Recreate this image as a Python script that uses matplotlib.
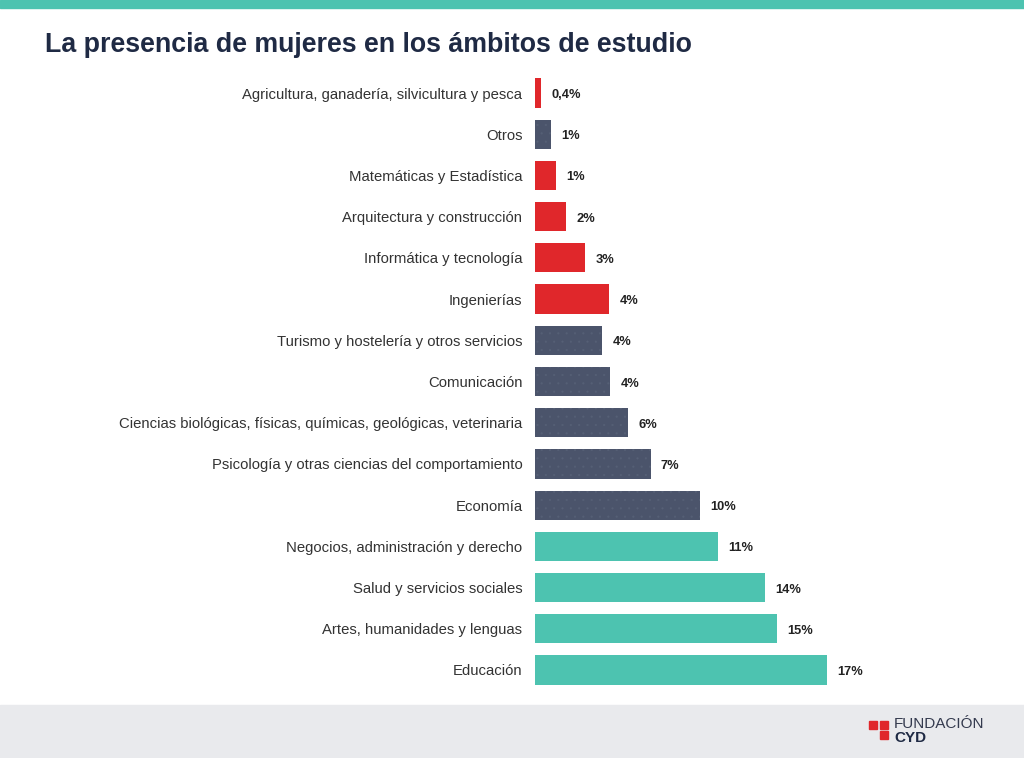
import matplotlib
matplotlib.use("Agg")
import matplotlib.pyplot as plt
from matplotlib.patches import Rectangle
from matplotlib.transforms import ScaledTranslation

plt.rcParams['font.family'] = ['Liberation Sans', 'DejaVu Sans']
plt.rcParams['hatch.linewidth'] = 0.3

# Data, top to bottom as in the chart
categories = [
    "Agricultura, ganadería, silvicultura y pesca",
    "Otros",
    "Matemáticas y Estadística",
    "Arquitectura y construcción",
    "Informática y tecnología",
    "Ingenierías",
    "Turismo y hostelería y otros servicios",
    "Comunicación",
    "Ciencias biológicas, físicas, químicas, geológicas, veterinaria",
    "Psicología y otras ciencias del comportamiento",
    "Economía",
    "Negocios, administración y derecho",
    "Salud y servicios sociales",
    "Artes, humanidades y lenguas",
    "Educación",
]
values = [0.35, 0.9, 1.2, 1.8, 2.9, 4.3, 3.9, 4.35, 5.4, 6.7, 9.55, 10.6, 13.35, 14.05, 16.9]
value_labels = ["0,4%", "1%", "1%", "2%", "3%", "4%", "4%", "4%", "6%", "7%",
                "10%", "11%", "14%", "15%", "17%"]
groups = ["stem", "other", "stem", "stem", "stem", "stem", "other", "other", "other",
          "other", "other", "fem", "fem", "fem", "fem"]

group_colors = {"stem": "#e0272b", "other": "#4b546b", "fem": "#4dc3b0"}

W, H = 1024, 758
fig = plt.figure(figsize=(W / 100, H / 100), dpi=100)
fig.patch.set_facecolor("white")

# top band and bottom footer
fig.patches.append(Rectangle((0, 1 - 8 / H), 1, 8 / H, transform=fig.transFigure,
                             color="#4dc3b0", zorder=0))
fig.patches.append(Rectangle((0, 0), 1, 53 / H, transform=fig.transFigure,
                             color="#e9eaed", zorder=0))

fig.text(45 / W, 1 - 45 / H, "La presencia de mujeres en los ámbitos de estudio",
         fontsize=19.3, fontweight="bold", color="#1f2a44", va="center", ha="left")

ax = fig.add_axes([535 / W, 1 - 690.6 / H, 400 / W, (690.6 - 72.4) / H])
y = list(range(len(categories)))
colors = [group_colors[g] for g in groups]
bars = ax.barh(y, values, height=0.71, color=colors, linewidth=0)
for b, g in zip(bars, groups):
    if g == "other":
        b.set_hatch("..")
        b.set_edgecolor("#566076")
ax.set_ylim(len(categories) - 0.5, -0.5)
ax.set_xlim(0, 400 / 17.25)

for yi, v, lab in zip(y, values, value_labels):
    ax.text(v + 0.6, yi + 0.05, lab, fontsize=9.3, fontweight="bold",
            color="#222222", va="center", ha="left")

ax.set_yticks(y)
ax.set_yticklabels(categories, fontsize=10.7, color="#333333")
# labels sit a little above the bar centres in the original
shift = ScaledTranslation(0, 2 / 100, fig.dpi_scale_trans)
for t in ax.get_yticklabels():
    t.set_transform(t.get_transform() + shift)
ax.tick_params(axis="y", length=0, pad=9)
ax.set_xticks([])
for s in ax.spines.values():
    s.set_visible(False)
ax.patch.set_alpha(0)

# logo
red = "#e0272b"
sq = 8
for (lx, ly) in [(869, 721), (880, 721), (880, 731)]:
    fig.patches.append(Rectangle((lx / W, 1 - (ly + sq) / H), sq / W, sq / H,
                                 transform=fig.transFigure, color=red, zorder=2))
fig.text(894 / W, 1 - 724 / H, "FUNDACIÓN", fontsize=11, color="#343a4e",
         va="center", ha="left")
fig.text(894 / W, 1 - 737.5 / H, "CYD", fontsize=11, fontweight="bold", color="#1f2a44",
         va="center", ha="left")

fig.savefig("out.png", dpi=100)
